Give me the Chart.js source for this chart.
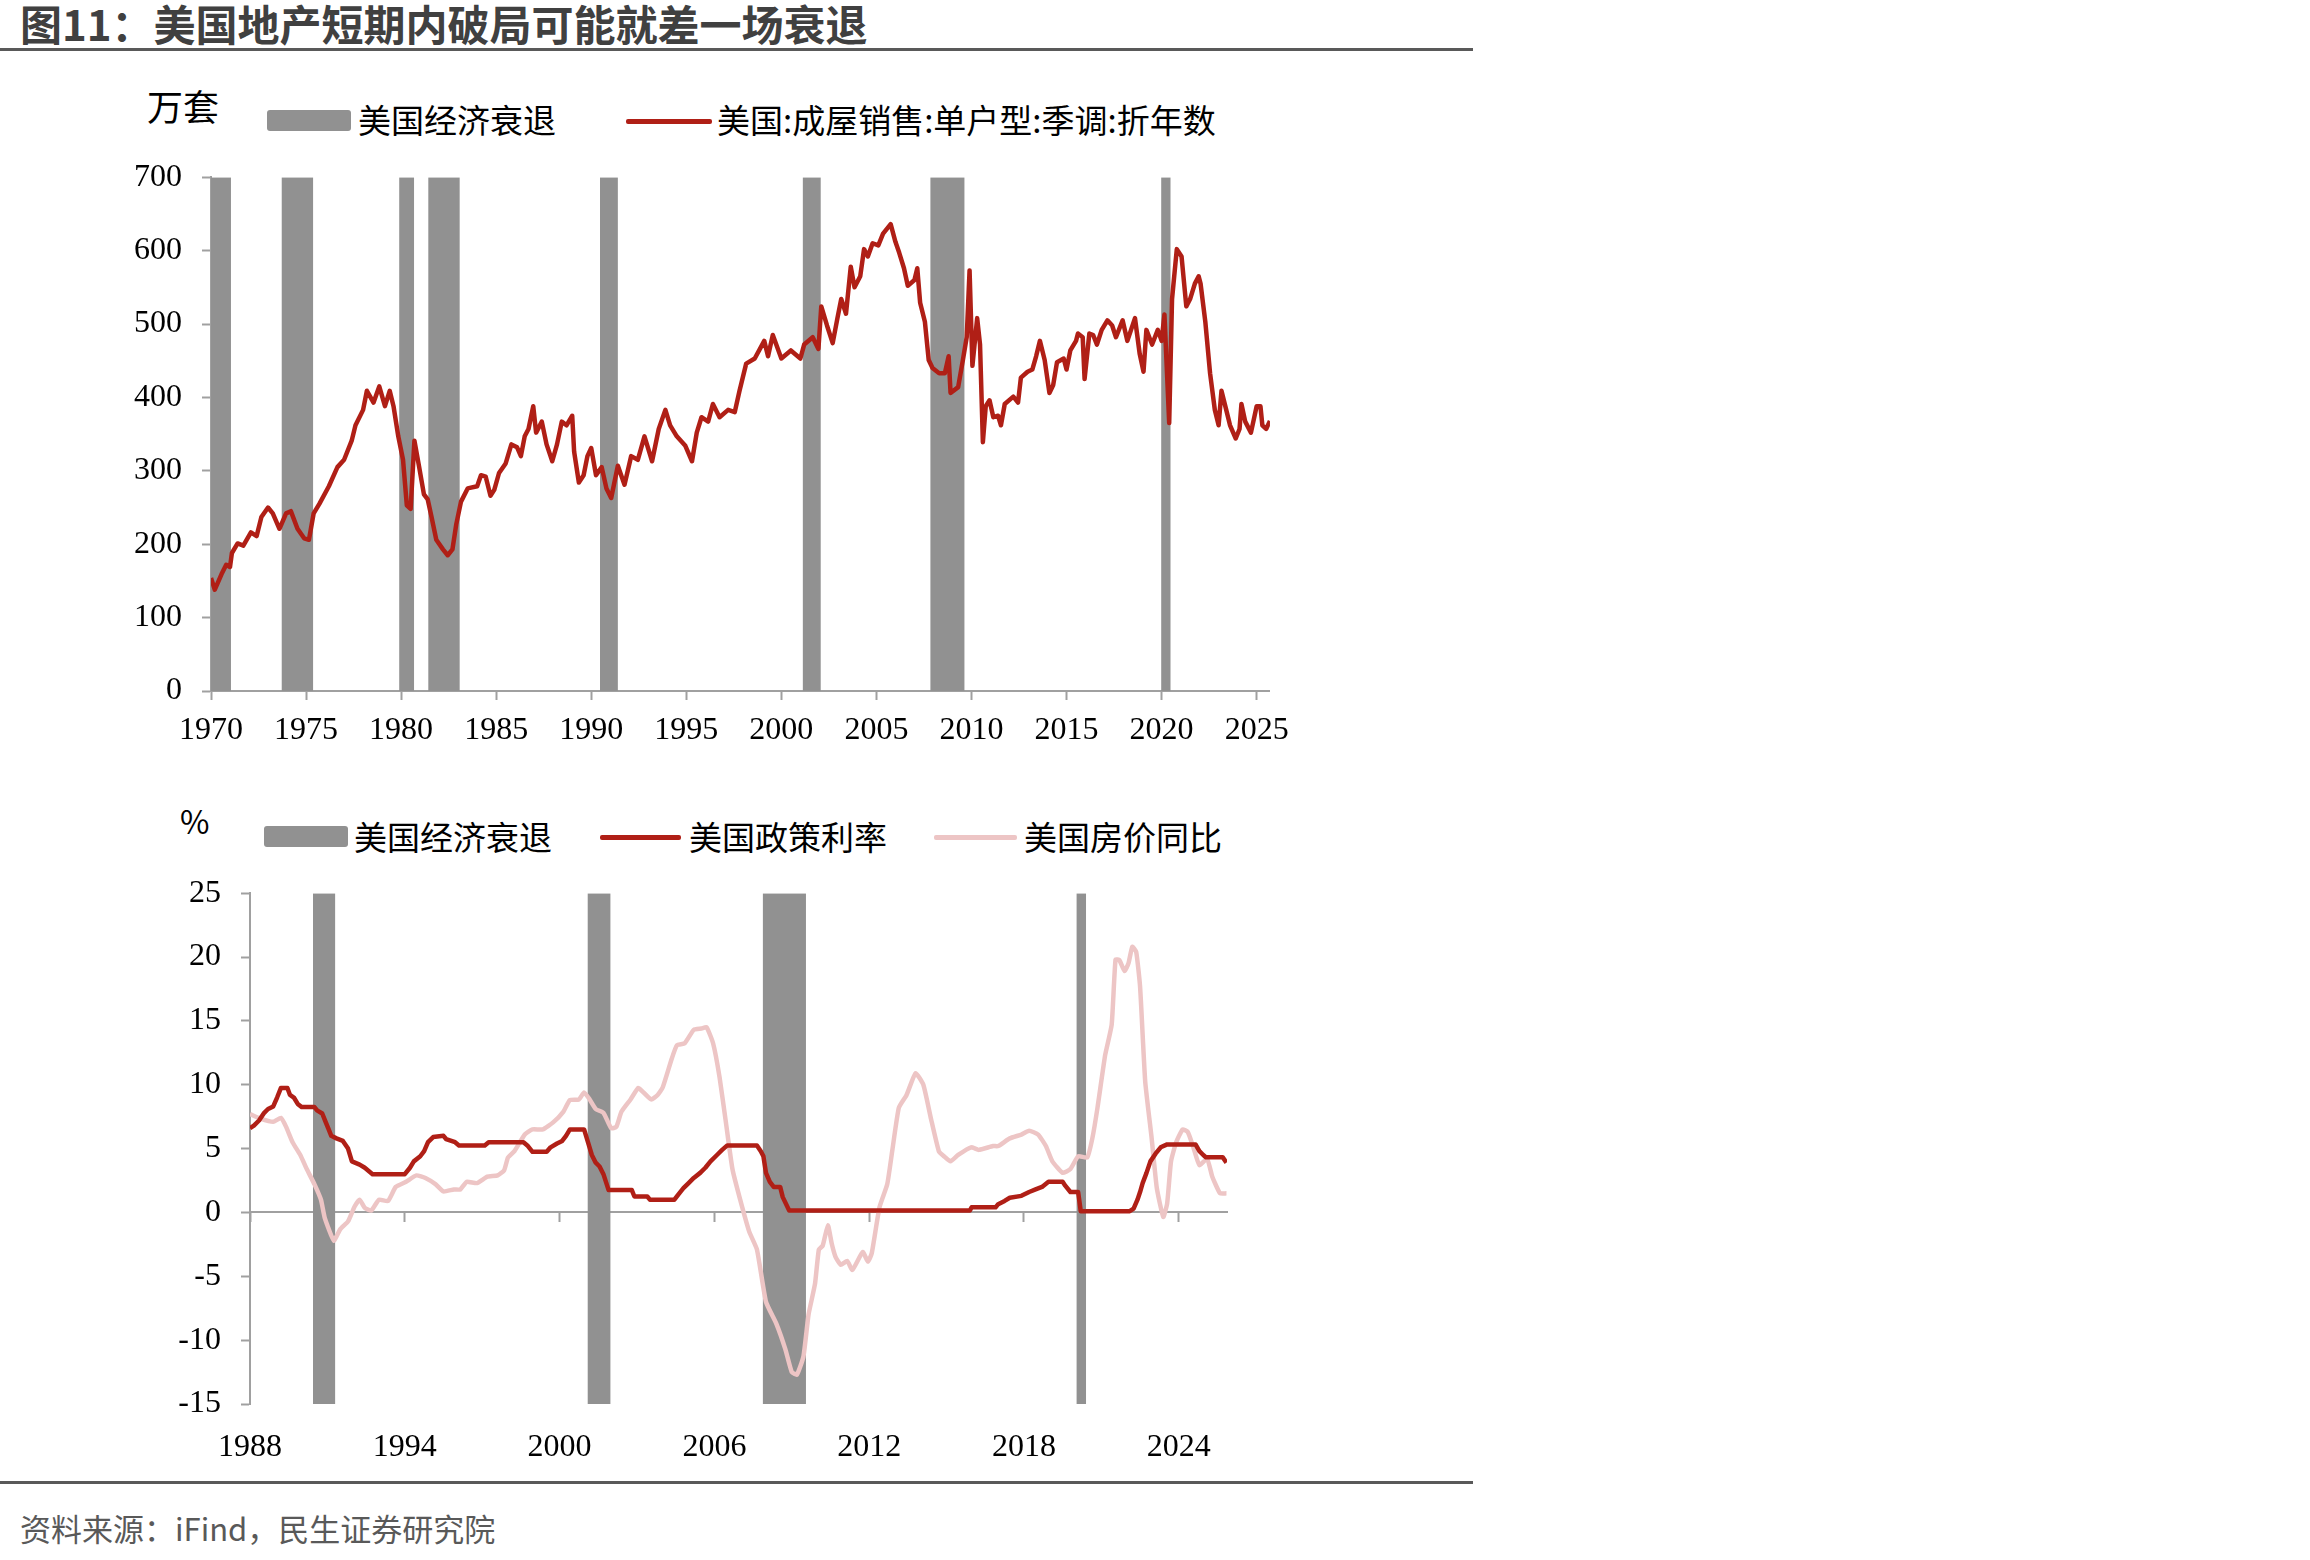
<!DOCTYPE html>
<html lang="zh-CN">
<head>
<meta charset="utf-8">
<title>图11：美国地产短期内破局可能就差一场衰退</title>
<script src="https://cdn.jsdelivr.net/npm/chart.js@4.4.1/dist/chart.umd.min.js"></script>
<style>
  html, body { margin: 0; padding: 0; background: #fff; }
  body { width: 2310px; height: 1560px; position: relative; overflow: hidden;
         font-family: "Noto Sans CJK SC", "Noto Sans", sans-serif; color: #000; }
  .abs { position: absolute; white-space: nowrap; }
  .rule { position: absolute; left: 0; width: 1473px; height: 3px; background: #595959; }
  #title { left: 20px; top: -2px; font-size: 42px; line-height: 50px; font-weight: 700; color: #404040; }
  #source { left: 20px; top: 1508px; font-size: 31px; line-height: 40px; color: #595959; }
  .unit { font-size: 36px; line-height: 40px; }
  .lg { font-size: 33px; line-height: 40px; }
  .box { position: absolute; height: 21px; background: #919191; border-radius: 3px; }
  .seg { position: absolute; height: 5px; border-radius: 2px; }
  canvas { position: absolute; }
</style>
</head>
<body>
<div id="title" class="abs">图11：美国地产短期内破局可能就差一场衰退</div>
<div class="rule" style="top:48px"></div>

<!-- top chart legend -->
<div class="abs unit" style="left:147px;top:85px">万套</div>
<div class="box" style="left:267px;top:110px;width:84px"></div>
<div class="abs lg" style="left:358px;top:99px">美国经济衰退</div>
<div class="seg" style="left:626px;top:119px;width:86px;background:#b01f16"></div>
<div class="abs lg" style="left:717px;top:99px">美国:成屋销售:单户型:季调:折年数</div>
<canvas id="salesChart" width="1200" height="632" style="left:100px;top:138px;width:1200px;height:632px"></canvas>

<!-- bottom chart legend -->
<div class="abs unit" style="left:180px;top:800px;font-size:32px">%</div>
<div class="box" style="left:264px;top:826px;width:84px"></div>
<div class="abs lg" style="left:354px;top:816px">美国经济衰退</div>
<div class="seg" style="left:600px;top:835px;width:81px;background:#b01f16"></div>
<div class="abs lg" style="left:689px;top:816px">美国政策利率</div>
<div class="seg" style="left:934px;top:835px;width:83px;background:#edc5c5"></div>
<div class="abs lg" style="left:1024px;top:816px">美国房价同比</div>
<canvas id="rateChart" width="1120" height="626" style="left:130px;top:854px;width:1120px;height:626px"></canvas>

<div class="rule" style="top:1481px"></div>
<div id="source" class="abs">资料来源：iFind，民生证券研究院</div>

<script>
// ---- top chart: single-family existing home sales, SAAR (10k units) ----
const salesYearTicks = [1970, 1975, 1980, 1985, 1990, 1995, 2000, 2005, 2010, 2015, 2020, 2025];
const salesValueTicks = [0, 100, 200, 300, 400, 500, 600, 700];
const salesDates = [
  1970.0, 1970.2, 1970.55, 1970.8, 1971.0, 1971.1, 1971.4, 1971.7, 1972.1, 1972.4,
  1972.65, 1973.0, 1973.25, 1973.6, 1973.95, 1974.2, 1974.55, 1974.9, 1975.15, 1975.4,
  1975.7, 1976.2, 1976.65, 1977.0, 1977.4, 1977.6, 1978.0, 1978.2, 1978.55, 1978.85,
  1979.15, 1979.4, 1979.6, 1979.85, 1980.1, 1980.3, 1980.5, 1980.7, 1980.95, 1981.2,
  1981.4, 1981.6, 1981.85, 1982.2, 1982.45, 1982.7, 1982.9, 1983.15, 1983.5, 1984.0,
  1984.2, 1984.45, 1984.7, 1984.9, 1985.15, 1985.5, 1985.8, 1986.1, 1986.3, 1986.5,
  1986.7, 1986.95, 1987.1, 1987.4, 1987.65, 1987.95, 1988.2, 1988.45, 1988.7, 1989.0,
  1989.1, 1989.35, 1989.6, 1989.8, 1990.0, 1990.25, 1990.55, 1990.8, 1991.05, 1991.4,
  1991.75, 1992.1, 1992.45, 1992.8, 1993.2, 1993.55, 1993.9, 1994.15, 1994.5, 1994.95,
  1995.3, 1995.55, 1995.8, 1996.15, 1996.4, 1996.75, 1997.2, 1997.55, 1997.8, 1998.15,
  1998.6, 1999.1, 1999.3, 1999.55, 2000.0, 2000.5, 2001.0, 2001.2, 2001.65, 2001.95,
  2002.1, 2002.4, 2002.7, 2002.95, 2003.15, 2003.4, 2003.65, 2003.85, 2004.15, 2004.35,
  2004.55, 2004.8, 2005.1, 2005.35, 2005.75, 2006.0, 2006.2, 2006.45, 2006.65, 2007.0,
  2007.15, 2007.3, 2007.55, 2007.75, 2007.95, 2008.3, 2008.6, 2008.8, 2008.9, 2009.3,
  2009.55, 2009.75, 2009.9, 2010.05, 2010.3, 2010.45, 2010.6, 2010.75, 2010.95, 2011.15,
  2011.4, 2011.55, 2011.75, 2012.2, 2012.45, 2012.6, 2012.95, 2013.2, 2013.4, 2013.6,
  2013.85, 2014.1, 2014.3, 2014.5, 2014.85, 2015.0, 2015.2, 2015.5, 2015.6, 2015.85,
  2015.95, 2016.2, 2016.4, 2016.6, 2016.85, 2017.15, 2017.4, 2017.6, 2017.95, 2018.2,
  2018.6, 2018.85, 2019.05, 2019.2, 2019.5, 2019.8, 2020.0, 2020.15, 2020.4, 2020.55,
  2020.8, 2021.05, 2021.3, 2021.5, 2021.75, 2021.95, 2022.05, 2022.3, 2022.55, 2022.8,
  2023.0, 2023.15, 2023.4, 2023.6, 2023.9, 2024.1, 2024.2, 2024.4, 2024.7, 2025.0,
  2025.2, 2025.3, 2025.5, 2025.7
];
const salesValues = [
  154, 138, 159, 172, 169, 188, 201, 198, 216, 211,
  237, 250, 242, 221, 242, 245, 221, 208, 206, 242,
  255, 279, 305, 315, 341, 362, 383, 409, 393, 415,
  388, 409, 388, 347, 315, 253, 248, 341, 305, 268,
  261, 237, 206, 193, 185, 193, 227, 258, 276, 279,
  294, 292, 266, 274, 297, 310, 336, 332, 320, 347,
  357, 388, 352, 367, 336, 313, 336, 367, 362, 375,
  326, 284, 294, 320, 331, 294, 305, 276, 263, 307,
  281, 320, 315, 347, 313, 357, 383, 362, 347, 334,
  313, 352, 373, 367, 391, 373, 383, 380, 409, 446,
  453, 477, 456, 485, 453, 464, 453, 472, 482, 466,
  524, 498, 474, 508, 534, 514, 578, 550, 565, 602,
  592, 610, 607, 623, 636, 612, 597, 576, 552, 560,
  576, 529, 503, 451, 440, 433, 433, 456, 406, 414,
  451, 482, 573, 443, 508, 472, 339, 388, 396, 373,
  375, 362, 391, 401, 393, 427, 435, 438, 456, 477,
  451, 406, 417, 448, 453, 438, 464, 477, 487, 482,
  425, 487, 485, 472, 492, 505, 498, 482, 505, 477,
  508, 459, 435, 492, 472, 492, 477, 513, 365, 534,
  602, 592, 524, 534, 555, 565, 555, 503, 433, 383,
  362, 409, 383, 362, 344, 357, 391, 367, 352, 388,
  388, 362, 357, 368
];
// recession spans [start, end] as drawn on the top chart
const recessionsTop = [
  [1970.0, 1971.05], [1973.72, 1975.37], [1979.9, 1980.68], [1981.43, 1983.08],
  [1990.46, 1991.4], [2001.13, 2002.07], [2007.84, 2009.63], [2019.98, 2020.48]
];

// ---- bottom chart: policy rate & house price yoy (%) ----
const rateYearTicks = [1988, 1994, 2000, 2006, 2012, 2018, 2024];
const rateValueTicks = [-15, -10, -5, 0, 5, 10, 15, 20, 25];
const policyDates = [
  1988.0, 1988.15, 1988.35, 1988.55, 1988.7, 1988.9, 1989.05, 1989.2, 1989.45, 1989.55,
  1989.7, 1989.85, 1990.0, 1990.5, 1990.6, 1990.8, 1990.95, 1991.05, 1991.15, 1991.35,
  1991.6, 1991.8, 1991.95, 1992.25, 1992.45, 1992.6, 1992.75, 1994.0, 1994.2, 1994.35,
  1994.6, 1994.75, 1994.9, 1995.1, 1995.5, 1995.6, 1995.95, 1996.1, 1997.1, 1997.25,
  1998.6, 1998.75, 1998.95, 1999.5, 1999.65, 1999.9, 2000.1, 2000.25, 2000.4, 2000.95,
  2001.1, 2001.25, 2001.4, 2001.55, 2001.7, 2001.9, 2002.8, 2002.9, 2003.4, 2003.5,
  2004.45, 2004.6, 2004.8, 2005.0, 2005.2, 2005.45, 2005.65, 2005.85, 2006.1, 2006.3,
  2006.5, 2007.65, 2007.8, 2007.9, 2008.0, 2008.15, 2008.3, 2008.55, 2008.65, 2008.9,
  2015.9, 2015.97, 2016.9, 2017.0, 2017.25, 2017.45, 2017.9, 2018.2, 2018.45, 2018.7,
  2018.95, 2019.5, 2019.6, 2019.8, 2020.1, 2020.2, 2022.1, 2022.25, 2022.4, 2022.5,
  2022.6, 2022.75, 2022.9, 2023.1, 2023.3, 2023.55, 2024.65, 2024.8, 2024.95, 2025.05,
  2025.7, 2025.85
];
const policyRate = [
  6.6, 6.8, 7.2, 7.8, 8.1, 8.3, 9.0, 9.75, 9.75, 9.2,
  9.0, 8.5, 8.25, 8.25, 8.0, 7.75, 7.0, 6.5, 6.0, 5.8,
  5.6, 5.0, 4.0, 3.75, 3.5, 3.25, 3.0, 3.0, 3.5, 4.0,
  4.4, 4.8, 5.5, 5.9, 6.0, 5.75, 5.5, 5.25, 5.25, 5.5,
  5.5, 5.25, 4.75, 4.75, 5.1, 5.4, 5.6, 6.0, 6.5, 6.5,
  5.5, 4.5, 3.9, 3.6, 3.0, 1.75, 1.75, 1.25, 1.25, 1.0,
  1.0, 1.4, 1.9, 2.3, 2.7, 3.1, 3.5, 4.0, 4.5, 4.9,
  5.25, 5.25, 4.8, 4.4, 3.1, 2.4, 2.0, 2.0, 1.2, 0.15,
  0.15, 0.4, 0.4, 0.65, 0.9, 1.15, 1.3, 1.6, 1.8, 2.0,
  2.4, 2.4, 2.1, 1.6, 1.6, 0.1, 0.1, 0.3, 1.0, 1.6,
  2.3, 3.1, 4.0, 4.6, 5.1, 5.33, 5.33, 4.8, 4.5, 4.33,
  4.33, 3.9
];
const hpiDates = [
  1988.0, 1988.4, 1988.9, 1989.2, 1989.4, 1989.65, 1989.95, 1990.2, 1990.5, 1990.75,
  1990.9, 1991.25, 1991.5, 1991.8, 1992.05, 1992.25, 1992.45, 1992.7, 1993.0, 1993.35,
  1993.65, 1994.05, 1994.45, 1994.8, 1995.2, 1995.5, 1995.9, 1996.15, 1996.4, 1996.8,
  1997.2, 1997.6, 1997.85, 1998.0, 1998.25, 1998.65, 1998.95, 1999.35, 1999.75, 2000.15,
  2000.4, 2000.75, 2000.95, 2001.15, 2001.4, 2001.7, 2002.0, 2002.2, 2002.4, 2002.75,
  2003.05, 2003.2, 2003.55, 2003.8, 2004.0, 2004.35, 2004.55, 2004.85, 2005.2, 2005.5,
  2005.7, 2005.95, 2006.2, 2006.45, 2006.7, 2007.0, 2007.35, 2007.65, 2008.0, 2008.4,
  2008.75, 2009.0, 2009.2, 2009.45, 2009.65, 2009.9, 2010.05, 2010.2, 2010.4, 2010.55,
  2010.7, 2010.9, 2011.15, 2011.35, 2011.75, 2011.95, 2012.1, 2012.4, 2012.7, 2012.9,
  2013.15, 2013.45, 2013.8, 2014.1, 2014.4, 2014.7, 2014.9, 2015.15, 2015.45, 2015.95,
  2016.25, 2016.8, 2017.0, 2017.45, 2017.9, 2018.2, 2018.55, 2018.85, 2019.1, 2019.5,
  2019.8, 2020.1, 2020.45, 2020.65, 2020.85, 2021.15, 2021.4, 2021.55, 2021.7, 2021.9,
  2022.05, 2022.2, 2022.35, 2022.5, 2022.7, 2022.95, 2023.15, 2023.4, 2023.55, 2023.7,
  2023.9, 2024.15, 2024.35, 2024.55, 2024.8, 2025.1, 2025.3, 2025.6, 2025.85
];
const hpiYoy = [
  7.7, 7.35, 7.1, 7.4, 6.7, 5.5, 4.5, 3.4, 2.2, 1.0,
  -0.45, -2.2, -1.3, -0.7, 0.45, 1.0, 0.35, 0.15, 1.0, 0.9,
  2.0, 2.4, 2.9, 2.7, 2.2, 1.65, 1.8, 1.8, 2.4, 2.3,
  2.8, 2.9, 3.3, 4.3, 4.8, 6.1, 6.5, 6.5, 7.05, 7.9,
  8.8, 8.85, 9.4, 8.9, 8.1, 7.8, 6.6, 6.7, 7.9, 8.85,
  9.75, 9.5, 8.85, 9.2, 9.8, 12.05, 13.1, 13.25, 14.3, 14.4,
  14.5, 13.25, 10.6, 7.0, 3.4, 1.0, -1.5, -2.9, -7.0, -8.7,
  -10.7, -12.5, -12.7, -11.3, -8.0, -5.6, -2.9, -2.6, -1.0, -2.45,
  -3.5, -4.1, -3.8, -4.5, -3.1, -3.85, -3.2, 0.4, 2.2, 4.9,
  8.2, 9.2, 10.9, 10.0, 7.3, 4.8, 4.4, 4.0, 4.5, 5.1,
  4.9, 5.2, 5.2, 5.8, 6.1, 6.4, 6.1, 5.2, 4.0, 3.1,
  3.4, 4.4, 4.3, 5.8, 8.2, 12.35, 14.7, 19.8, 19.75, 18.9,
  19.5, 20.8, 20.4, 17.7, 10.25, 5.8, 1.9, -0.35, 0.7, 4.0,
  5.5, 6.5, 6.3, 5.2, 3.7, 4.2, 2.8, 1.5, 1.5
];
const recessionsBottom = [
  [1990.44, 1991.3], [2001.09, 2001.97], [2007.88, 2009.55], [2020.04, 2020.41]
];

const RED = "#b01f16";
const PINK = "#edc5c5";
const GRAY = "#919191";
const AXIS = "#a0a0a0";
const tickFont = { family: "'Liberation Serif', 'Times New Roman', serif", size: 32 };

function pairUp(xs, ys) {
  return xs.map((x, i) => ({ x: x, y: ys[i] }));
}

// shaded spans become a filled outline running along the bottom of the plot
function recessionOutline(spans, lo, hi) {
  const pts = [];
  spans.forEach(([s, e]) => {
    pts.push({ x: s, y: lo }, { x: s, y: hi }, { x: e, y: hi }, { x: e, y: lo });
  });
  return pts;
}

function useTicks(values) {
  return (scale) => { scale.ticks = values.map((v) => ({ value: v })); };
}

const baseOptions = {
  responsive: false,
  animation: false,
  devicePixelRatio: 1,
  events: [],
  plugins: { legend: { display: false }, tooltip: { enabled: false } },
};

function axisGrid() {
  return { display: true, drawOnChartArea: false, drawTicks: true, tickLength: 9, tickColor: AXIS, tickWidth: 2 };
}

new Chart(document.getElementById("salesChart"), {
  type: "line",
  data: {
    datasets: [
      {
        label: "美国:成屋销售:单户型:季调:折年数",
        data: pairUp(salesDates, salesValues),
        borderColor: RED,
        borderWidth: 4.5,
        borderJoinStyle: "round",
        pointRadius: 0,
        tension: 0,
        order: 0,
      },
      {
        label: "美国经济衰退",
        data: recessionOutline(recessionsTop, salesValueTicks[0], salesValueTicks[salesValueTicks.length - 1]),
        borderColor: "rgba(0,0,0,0)",
        borderWidth: 0,
        backgroundColor: GRAY,
        fill: { value: salesValueTicks[0] },
        pointRadius: 0,
        order: 1,
      },
    ],
  },
  options: {
    ...baseOptions,
    layout: { autoPadding: false, padding: { left: 0, top: 0, right: 28, bottom: 9 } },
    scales: {
      x: {
        type: "linear",
        min: 1970,
        max: 2025.7,
        afterBuildTicks: useTicks(salesYearTicks),
        afterFit: (s) => { s.height = 70; },
        border: { display: true, color: AXIS, width: 2 },
        grid: axisGrid(),
        ticks: { font: tickFont, color: "#000", padding: 11, maxRotation: 0, autoSkip: false, callback: (v) => String(v) },
      },
      y: {
        min: 0,
        max: 700,
        afterBuildTicks: useTicks(salesValueTicks),
        afterFit: (s) => { s.width = 111; },
        border: { display: true, color: AXIS, width: 2 },
        grid: axisGrid(),
        ticks: { font: tickFont, color: "#000", padding: 20, callback: (v) => String(v) },
      },
    },
  },
});

new Chart(document.getElementById("rateChart"), {
  type: "line",
  data: {
    datasets: [
      {
        label: "美国政策利率",
        data: pairUp(policyDates, policyRate),
        xAxisID: "x",
        borderColor: RED,
        borderWidth: 4.5,
        borderJoinStyle: "round",
        pointRadius: 0,
        tension: 0,
        order: 0,
      },
      {
        label: "美国房价同比",
        data: pairUp(hpiDates, hpiYoy),
        xAxisID: "x",
        borderColor: PINK,
        borderWidth: 4.5,
        borderJoinStyle: "round",
        pointRadius: 0,
        tension: 0.15,
        order: 1,
      },
      {
        label: "美国经济衰退",
        data: recessionOutline(recessionsBottom, rateValueTicks[0], rateValueTicks[rateValueTicks.length - 1]),
        xAxisID: "x",
        borderColor: "rgba(0,0,0,0)",
        borderWidth: 0,
        backgroundColor: GRAY,
        fill: { value: rateValueTicks[0] },
        pointRadius: 0,
        order: 2,
      },
    ],
  },
  options: {
    ...baseOptions,
    layout: { autoPadding: false, padding: { left: 0, top: 0, right: 23, bottom: 6 } },
    scales: {
      x: {
        type: "linear",
        min: 1988,
        max: 2025.87,
        afterBuildTicks: useTicks(rateYearTicks),
        afterFit: (s) => { s.height = 70; },
        border: { display: false },
        grid: { display: false },
        ticks: { font: tickFont, color: "#000", padding: 16, maxRotation: 0, autoSkip: false, callback: (v) => String(v) },
      },
      // axis line with tick marks sitting on the zero value
      xZero: {
        type: "linear",
        axis: "x",
        position: { y: 0 },
        min: 1988,
        max: 2025.87,
        afterBuildTicks: useTicks(rateYearTicks),
        border: { display: true, color: AXIS, width: 2 },
        grid: axisGrid(),
        ticks: { display: false },
      },
      y: {
        min: -15,
        max: 25,
        afterBuildTicks: useTicks(rateValueTicks),
        afterFit: (s) => { s.width = 120; },
        border: { display: true, color: AXIS, width: 2 },
        grid: axisGrid(),
        ticks: { font: tickFont, color: "#000", padding: 20, callback: (v) => String(v) },
      },
    },
  },
});
</script>
</body>
</html>
